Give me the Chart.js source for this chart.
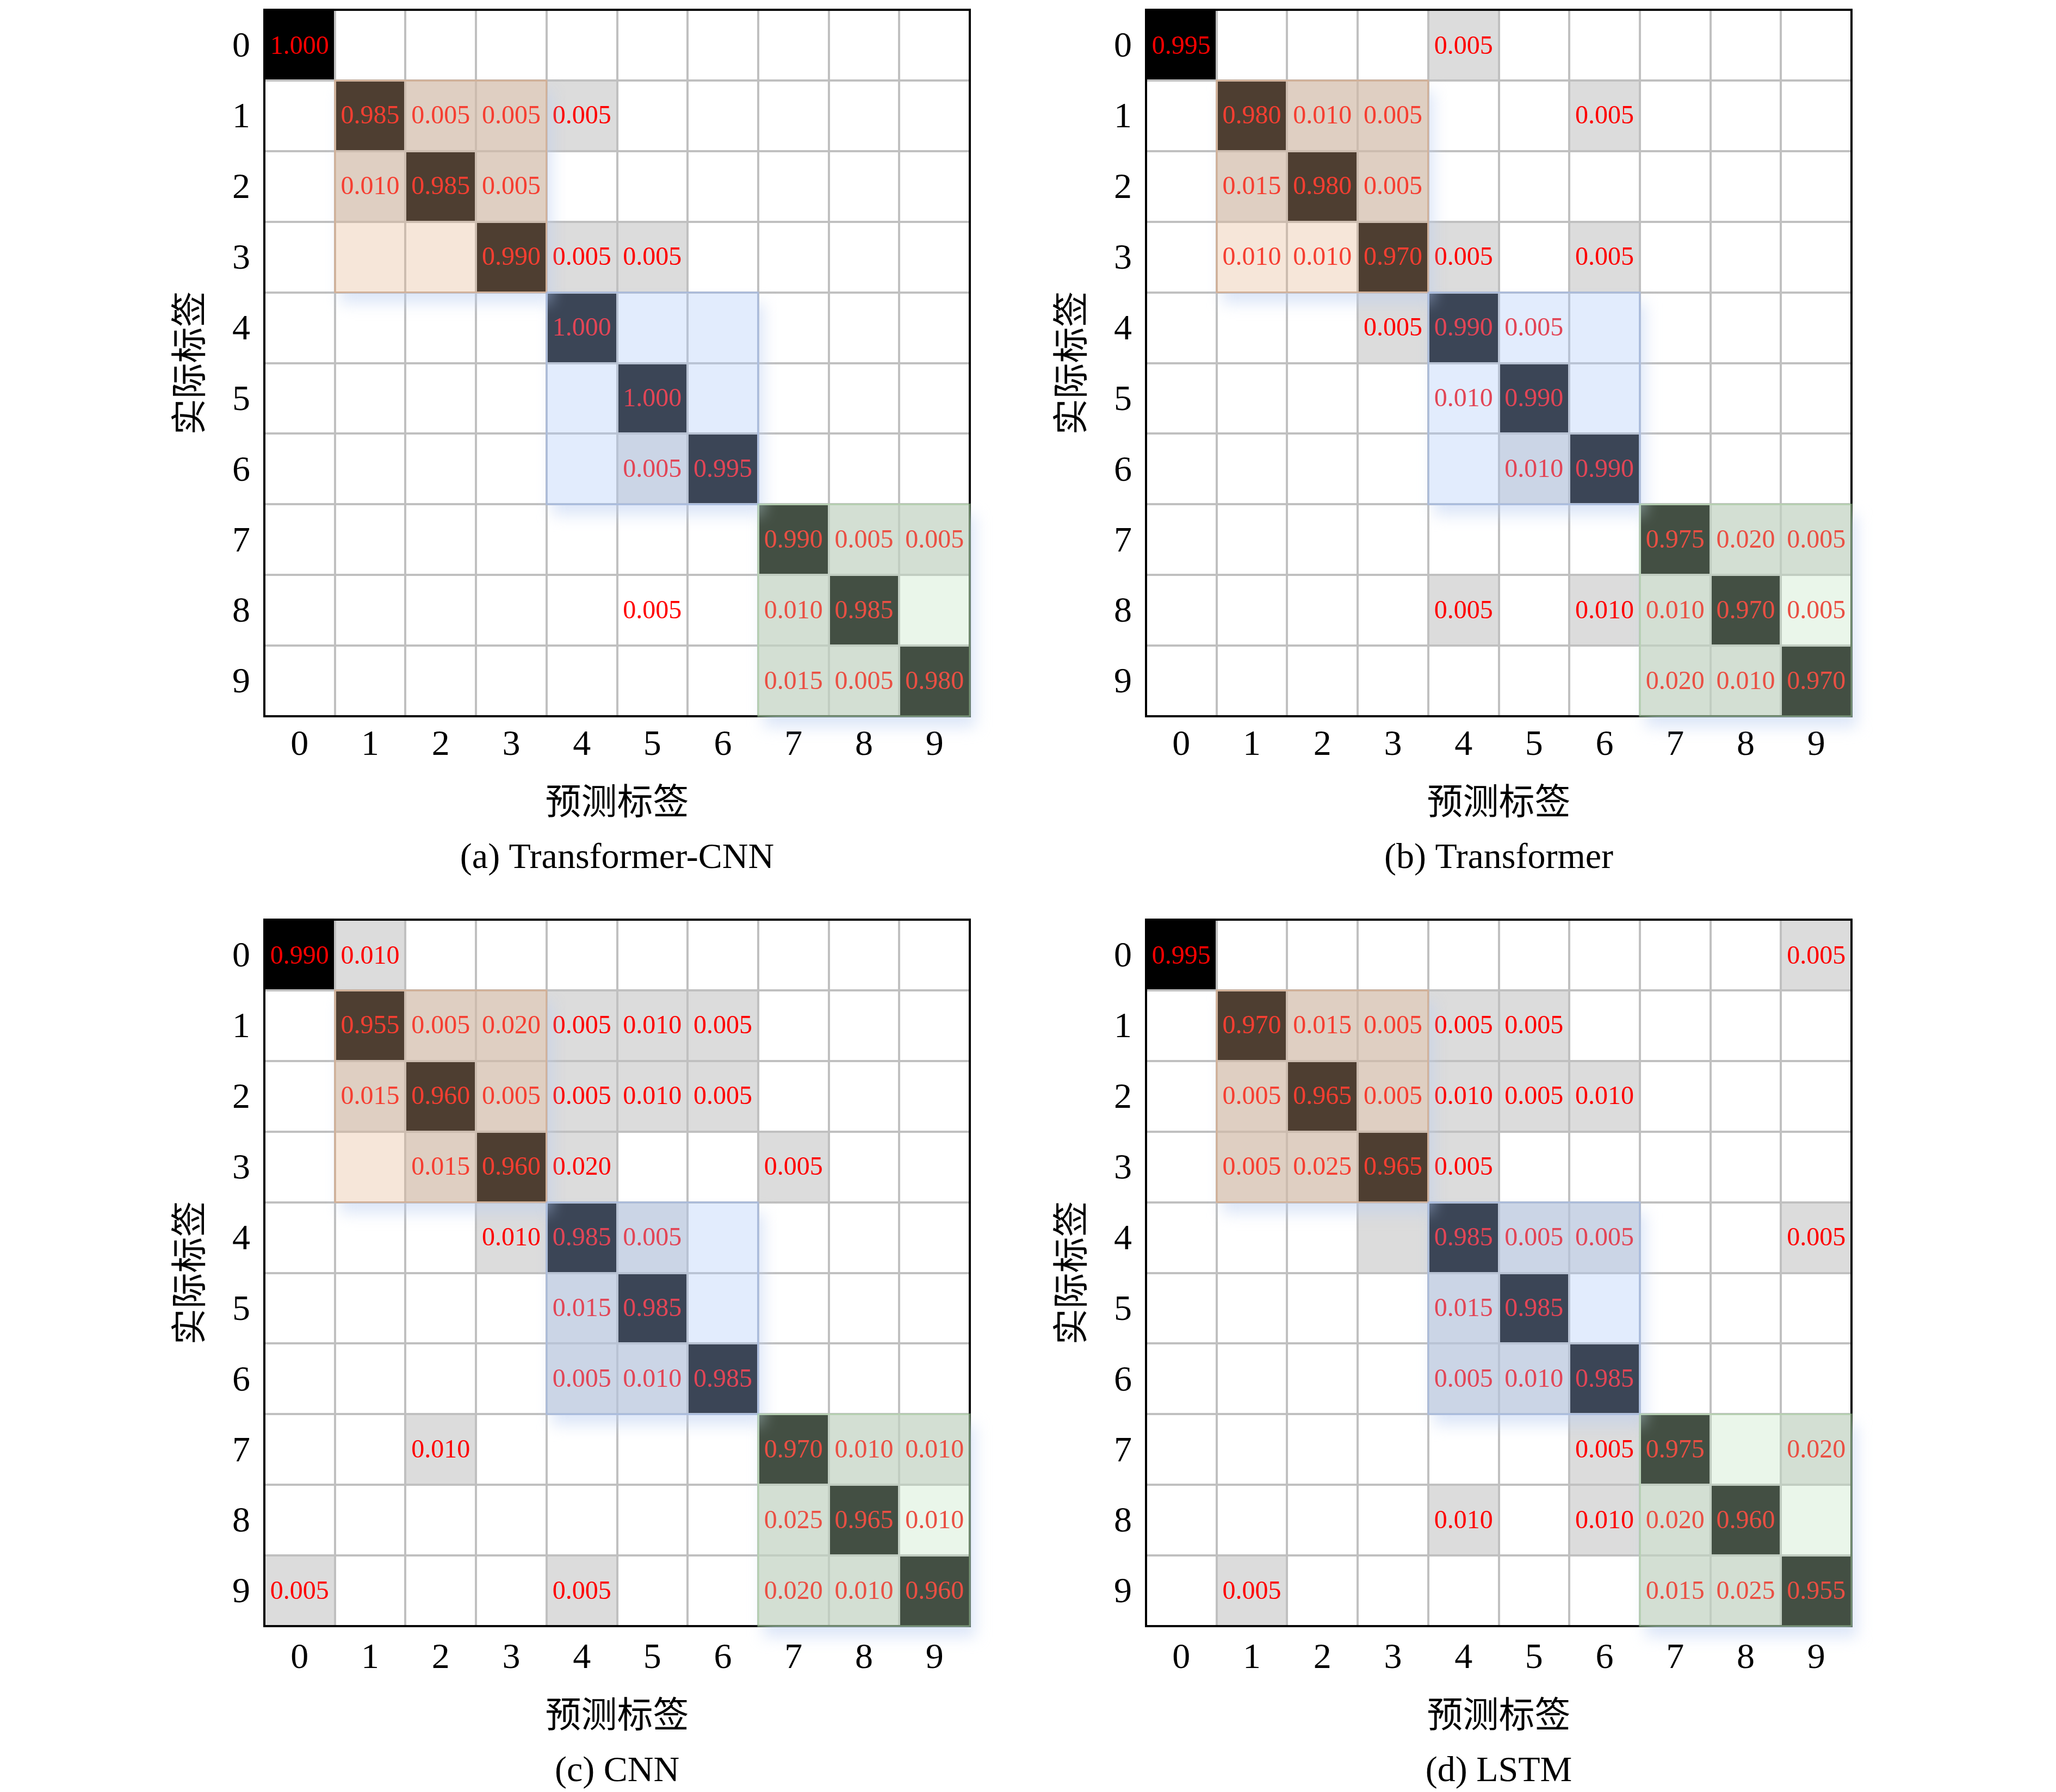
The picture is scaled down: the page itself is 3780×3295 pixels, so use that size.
<!DOCTYPE html>
<html>
<head>
<meta charset="utf-8">
<title>混淆矩阵</title>
<script src="https://cdn.jsdelivr.net/npm/chart.js@4.4.0/dist/chart.umd.min.js"></script>
<style>
    html, body { margin: 0; padding: 0; background: #fff; overflow: hidden; }
    body { width: 3780px; height: 3295px; position: relative; }
    canvas { position: absolute; }
</style>
</head>
<body>
<canvas id="chartA" width="1840" height="1640" style="left:0px;top:0px;width:1840px;height:1640px"></canvas>
<canvas id="chartB" width="1840" height="1640" style="left:1621px;top:0px;width:1840px;height:1640px"></canvas>
<canvas id="chartC" width="1840" height="1640" style="left:0px;top:1673px;width:1840px;height:1640px"></canvas>
<canvas id="chartD" width="1840" height="1640" style="left:1621px;top:1673px;width:1840px;height:1640px"></canvas>
<script>
const classLabels = ['0', '1', '2', '3', '4', '5', '6', '7', '8', '9'];
const xTitle = '预测标签';
const yTitle = '实际标签';
const captions = ['(a) Transformer-CNN', '(b) Transformer', '(c) CNN', '(d) LSTM'];

// rows = actual label, columns = predicted label
const valuesA = [
    [1.000, 0, 0, 0, 0, 0, 0, 0, 0, 0],
    [0, 0.985, 0.005, 0.005, 0.005, 0, 0, 0, 0, 0],
    [0, 0.010, 0.985, 0.005, 0, 0, 0, 0, 0, 0],
    [0, 0, 0, 0.990, 0.005, 0.005, 0, 0, 0, 0],
    [0, 0, 0, 0, 1.000, 0, 0, 0, 0, 0],
    [0, 0, 0, 0, 0, 1.000, 0, 0, 0, 0],
    [0, 0, 0, 0, 0, 0.005, 0.995, 0, 0, 0],
    [0, 0, 0, 0, 0, 0, 0, 0.990, 0.005, 0.005],
    [0, 0, 0, 0, 0, 0.005, 0, 0.010, 0.985, 0],
    [0, 0, 0, 0, 0, 0, 0, 0.015, 0.005, 0.980]
];
const valuesB = [
    [0.995, 0, 0, 0, 0.005, 0, 0, 0, 0, 0],
    [0, 0.980, 0.010, 0.005, 0, 0, 0.005, 0, 0, 0],
    [0, 0.015, 0.980, 0.005, 0, 0, 0, 0, 0, 0],
    [0, 0.010, 0.010, 0.970, 0.005, 0, 0.005, 0, 0, 0],
    [0, 0, 0, 0.005, 0.990, 0.005, 0, 0, 0, 0],
    [0, 0, 0, 0, 0.010, 0.990, 0, 0, 0, 0],
    [0, 0, 0, 0, 0, 0.010, 0.990, 0, 0, 0],
    [0, 0, 0, 0, 0, 0, 0, 0.975, 0.020, 0.005],
    [0, 0, 0, 0, 0.005, 0, 0.010, 0.010, 0.970, 0.005],
    [0, 0, 0, 0, 0, 0, 0, 0.020, 0.010, 0.970]
];
const valuesC = [
    [0.990, 0.010, 0, 0, 0, 0, 0, 0, 0, 0],
    [0, 0.955, 0.005, 0.020, 0.005, 0.010, 0.005, 0, 0, 0],
    [0, 0.015, 0.960, 0.005, 0.005, 0.010, 0.005, 0, 0, 0],
    [0, 0, 0.015, 0.960, 0.020, 0, 0, 0.005, 0, 0],
    [0, 0, 0, 0.010, 0.985, 0.005, 0, 0, 0, 0],
    [0, 0, 0, 0, 0.015, 0.985, 0, 0, 0, 0],
    [0, 0, 0, 0, 0.005, 0.010, 0.985, 0, 0, 0],
    [0, 0, 0.010, 0, 0, 0, 0, 0.970, 0.010, 0.010],
    [0, 0, 0, 0, 0, 0, 0, 0.025, 0.965, 0.010],
    [0.005, 0, 0, 0, 0.005, 0, 0, 0.020, 0.010, 0.960]
];
const valuesD = [
    [0.995, 0, 0, 0, 0, 0, 0, 0, 0, 0.005],
    [0, 0.970, 0.015, 0.005, 0.005, 0.005, 0, 0, 0, 0],
    [0, 0.005, 0.965, 0.005, 0.010, 0.005, 0.010, 0, 0, 0],
    [0, 0.005, 0.025, 0.965, 0.005, 0, 0, 0, 0, 0],
    [0, 0, 0, 0, 0.985, 0.005, 0.005, 0, 0, 0.005],
    [0, 0, 0, 0, 0.015, 0.985, 0, 0, 0, 0],
    [0, 0, 0, 0, 0.005, 0.010, 0.985, 0, 0, 0],
    [0, 0, 0, 0, 0, 0, 0.005, 0.975, 0, 0.020],
    [0, 0, 0, 0, 0.010, 0, 0.010, 0.020, 0.960, 0],
    [0, 0.005, 0, 0, 0, 0, 0, 0.015, 0.025, 0.955]
];

// off-diagonal cells that have a grey background, [row, col]
const grayA = [[1, 2], [1, 3], [1, 4], [2, 1], [2, 3], [3, 4], [3, 5], [6, 5],
    [7, 8], [7, 9], [8, 7], [9, 7], [9, 8]];
const grayB = [[0, 4], [1, 2], [1, 3], [1, 6], [2, 1], [2, 3], [3, 4], [3, 6], [4, 3], [6, 5],
    [7, 8], [7, 9], [8, 4], [8, 6], [8, 7], [9, 7], [9, 8]];
const grayC = [[0, 1], [1, 2], [1, 3], [1, 4], [1, 5], [1, 6], [2, 1], [2, 3], [2, 4], [2, 5], [2, 6],
    [3, 2], [3, 4], [3, 7], [4, 3], [4, 5], [5, 4], [6, 4], [6, 5], [7, 2], [7, 8], [7, 9],
    [8, 7], [9, 0], [9, 4], [9, 7], [9, 8]];
const grayD = [[0, 9], [1, 2], [1, 3], [1, 4], [1, 5], [2, 1], [2, 3], [2, 4], [2, 5], [2, 6],
    [3, 1], [3, 2], [3, 4], [4, 3], [4, 5], [4, 6], [4, 9], [5, 4], [6, 4], [6, 5], [7, 6], [7, 9],
    [8, 4], [8, 6], [8, 7], [9, 1], [9, 7], [9, 8]];

// class groups highlighted with a tinted block
const groupRanges = [[1, 3], [4, 6], [7, 9]];

const serif = '"Liberation Serif", "Noto Sans CJK SC", serif';
const groupStyles = [
    { fill: 'rgba(230, 182, 145, 0.34)', edge: 'rgba(225, 160, 110, 0.45)' },
    { fill: 'rgba(171, 200, 249, 0.345)', edge: 'rgba(150, 180, 235, 0.45)' },
    { fill: 'rgba(194, 229, 194, 0.345)', edge: 'rgba(170, 215, 160, 0.5)' }
];

function cellColors(values, gray) {
    return values.map((row, r) => row.map((v, c) => {
        if (r === c) return '#000000';
        if (gray.some(([gr, gc]) => gr === r && gc === c)) return '#dcdcdc';
        return '#ffffff';
    }));
}

const matrixDecor = {
    id: 'matrixDecor',
    afterDraw(chart, args, opts) {
        const { ctx, chartArea: area, scales: { x, y } } = chart;
        const half = (x.getPixelForValue(1) - x.getPixelForValue(0)) / 2;

        ctx.save();
        // outer frame
        ctx.strokeStyle = '#000';
        ctx.lineWidth = 4;
        ctx.strokeRect(area.left, area.top, area.right - area.left, area.bottom - area.top);

        // cell values
        ctx.font = '48px ' + serif;
        ctx.fillStyle = '#ff0000';
        ctx.textAlign = 'center';
        ctx.textBaseline = 'middle';
        opts.values.forEach((row, r) => {
            const meta = chart.getDatasetMeta(r);
            row.forEach((v, c) => {
                if (!v) return;
                const el = meta.data[c];
                ctx.fillText(v.toFixed(3), el.x, (el.y + el.base) / 2 + 2);
            });
        });

        // tinted group blocks with a soft shadow
        groupRanges.forEach(([s, e], i) => {
            const l = x.getPixelForValue(s) - half;
            const r = x.getPixelForValue(e) + half;
            const t = y.getPixelForValue(s);
            const b = y.getPixelForValue(e + 1);
            const w = r - l, h = b - t;

            ctx.save();
            ctx.beginPath();
            ctx.rect(0, 0, chart.width, chart.height);
            ctx.rect(l, t, w, h);
            ctx.clip('evenodd');
            ctx.filter = 'blur(14px)';
            ctx.fillStyle = 'rgba(185, 205, 242, 0.5)';
            ctx.fillRect(l + 10, t + 20, w, h);
            ctx.restore();

            ctx.fillStyle = groupStyles[i].fill;
            ctx.fillRect(l, t, w, h);
            ctx.strokeStyle = groupStyles[i].edge;
            ctx.lineWidth = 3;
            ctx.strokeRect(l, t, w, h);
        });
        ctx.restore();
    }
};

// lift: how far the text under the matrix sits higher (top row is a bit tighter)
function drawMatrix(canvasId, values, gray, caption, lift) {
    const colors = cellColors(values, gray);
    return new Chart(document.getElementById(canvasId), {
        type: 'bar',
        data: {
            labels: classLabels,
            datasets: values.map((row, r) => ({
                data: row.map(() => [r, r + 1]),
                backgroundColor: colors[r],
                borderWidth: 0,
                grouped: false,
                barPercentage: 1,
                categoryPercentage: 1
            }))
        },
        options: {
            responsive: false,
            animation: false,
            devicePixelRatio: 1,
            layout: { padding: { left: 0, top: 18, right: 57, bottom: 0 } },
            plugins: {
                legend: { display: false },
                tooltip: { enabled: false },
                title: {
                    display: true,
                    position: 'bottom',
                    fullSize: false,
                    text: caption,
                    color: '#000',
                    font: { family: serif, size: 66, weight: 'normal' },
                    padding: { top: 10, bottom: 15.4 + lift }
                },
                matrixDecor: { values: values }
            },
            scales: {
                x: {
                    type: 'category',
                    grid: { offset: true, color: '#c0c0c0', lineWidth: 4, drawTicks: false, z: 1 },
                    border: { display: false },
                    ticks: { color: '#000', padding: 20 - lift, font: { family: serif, size: 66 } },
                    title: {
                        display: true,
                        text: xTitle,
                        color: '#000',
                        font: { family: serif, size: 66 },
                        padding: { top: 0, bottom: 9.8 }
                    },
                    afterFit(scale) {
                        scale.height = 218.4 - lift;
                        scale.paddingLeft = 0;
                        scale.paddingRight = 0;
                    }
                },
                y: {
                    type: 'linear',
                    reverse: true,
                    min: 0,
                    max: 10,
                    grid: {
                        color: (ctx) => Number.isInteger(ctx.tick.value) ? '#c0c0c0' : 'rgba(0,0,0,0)',
                        lineWidth: 4,
                        drawTicks: false,
                        z: 1
                    },
                    border: { display: false },
                    ticks: {
                        stepSize: 0.5,
                        autoSkip: false,
                        color: '#000',
                        padding: 26,
                        labelOffset: 4,
                        font: { family: serif, size: 66 },
                        callback: (v) => Number.isInteger(v) ? '' : classLabels[Math.floor(v)]
                    },
                    title: {
                        display: true,
                        text: yTitle,
                        color: '#000',
                        font: { family: serif, size: 66 },
                        padding: { top: 314.4, bottom: 0 }
                    },
                    afterFit(scale) {
                        scale.width = 486;
                        scale.paddingTop = 0;
                        scale.paddingBottom = 0;
                    }
                }
            }
        },
        plugins: [matrixDecor]
    });
}

drawMatrix('chartA', valuesA, grayA, captions[0], 6);
drawMatrix('chartB', valuesB, grayB, captions[1], 6);
drawMatrix('chartC', valuesC, grayC, captions[2], 0);
drawMatrix('chartD', valuesD, grayD, captions[3], 0);
</script>
</body>
</html>
